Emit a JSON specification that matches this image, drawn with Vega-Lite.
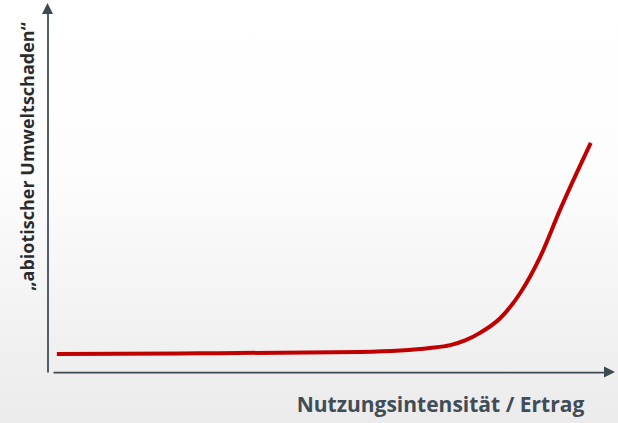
{
  "$schema": "https://vega.github.io/schema/vega-lite/v6.json",
  "width": 618,
  "height": 423,
  "padding": 0,
  "autosize": {"type": "none"},
  "background": "#ffffff",
  "config": {
    "view": {
      "stroke": null,
      "fill": {
        "gradient": "linear",
        "x1": 0, "y1": 0, "x2": 0, "y2": 1,
        "stops": [
          {"offset": 0, "color": "#ffffff"},
          {"offset": 0.4, "color": "#fdfdfd"},
          {"offset": 1, "color": "#ebebeb"}
        ]
      }
    }
  },
  "layer": [
    {
      "data": {
        "values": [
          {"intensity": 0.7, "damage": 5.0},
          {"intensity": 26.7, "damage": 5.2},
          {"intensity": 55.7, "damage": 5.6},
          {"intensity": 63.0, "damage": 6.0},
          {"intensity": 68.4, "damage": 6.7},
          {"intensity": 72.1, "damage": 7.5},
          {"intensity": 74.8, "damage": 8.8},
          {"intensity": 77.5, "damage": 10.9},
          {"intensity": 81.1, "damage": 14.9},
          {"intensity": 84.8, "damage": 22.0},
          {"intensity": 88.4, "damage": 32.0},
          {"intensity": 92.0, "damage": 45.1},
          {"intensity": 95.3, "damage": 56.3},
          {"intensity": 97.6, "damage": 63.8}
        ]
      },
      "mark": {"type": "line", "color": "#c00000", "strokeWidth": 4, "interpolate": "monotone", "clip": false},
      "encoding": {
        "x": {
          "field": "intensity", "type": "quantitative",
          "scale": {"domain": [0, 100], "range": [53, 604], "nice": false, "zero": false},
          "axis": {
            "orient": "bottom", "offset": -51,
            "domainColor": "#3c4a54", "domainWidth": 1.75,
            "ticks": false, "labels": false, "grid": false,
            "title": "Nutzungsintensität / Ertrag",
            "titleX": 440, "titleY": 39,
            "titleAlign": "center", "titleBaseline": "alphabetic",
            "titleFont": "Open Sans", "titleFontSize": 21, "titleFontWeight": "bold",
            "titleColor": "#404d57"
          }
        },
        "y": {
          "field": "damage", "type": "quantitative",
          "scale": {"domain": [0, 100], "range": [372, 13], "nice": false, "zero": false},
          "axis": {
            "orient": "left", "offset": -47.5,
            "domainColor": "#3c4a54", "domainWidth": 1.75,
            "ticks": false, "labels": false, "grid": false,
            "title": "„abiotischer Umweltschaden“",
            "titleX": -14, "titleY": 156, "titleAngle": 270,
            "titleAlign": "center", "titleBaseline": "alphabetic",
            "titleFont": "Open Sans", "titleFontSize": 18, "titleFontWeight": "bold",
            "titleColor": "#2b2b2b"
          }
        }
      }
    },
    {
      "data": {
        "values": [
          {"axis": "x", "intensity": 101.0, "damage": 0},
          {"axis": "y", "intensity": -1.0, "damage": 101.25}
        ]
      },
      "mark": {"type": "point", "filled": true, "opacity": 1, "size": 121, "color": "#3c4a54", "clip": false},
      "encoding": {
        "x": {"field": "intensity", "type": "quantitative"},
        "y": {"field": "damage", "type": "quantitative"},
        "shape": {
          "field": "axis", "type": "nominal",
          "scale": {"domain": ["x", "y"], "range": ["M-1,-1L1,0L-1,1Z", "M0,-1L1,1L-1,1Z"]},
          "legend": null
        }
      }
    }
  ]
}
